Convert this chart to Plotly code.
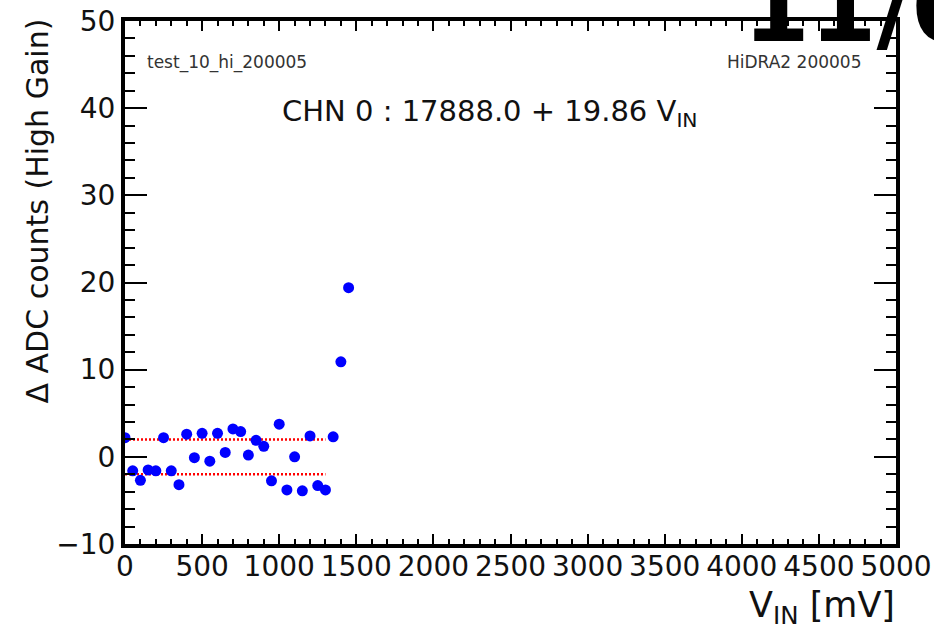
import plotly.graph_objects as go

# Input voltage scan (mV) and deviation from the linear fit (ADC counts)
v_in = [0, 50, 100, 150, 200, 250, 300, 350, 400, 450,
        500, 550, 600, 650, 700, 750, 800, 850, 900, 950,
        1000, 1050, 1100, 1150, 1200, 1250, 1300, 1350, 1400, 1450]
delta_adc = [2.2, -1.6, -2.7, -1.5, -1.6, 2.2, -1.6, -3.2, 2.6, -0.1,
             2.7, -0.5, 2.7, 0.5, 3.2, 2.9, 0.2, 1.9, 1.2, -2.75,
             3.75, -3.8, 0.0, -3.9, 2.4, -3.3, -3.8, 2.3, 10.9, 19.4]

# +/- 2 count tolerance band over the linear range
band_x = [0, 1300]
band_hi = [2, 2]
band_lo = [-2, -2]

x_ticks = [0, 500, 1000, 1500, 2000, 2500, 3000, 3500, 4000, 4500, 5000]
y_ticks = [-10, 0, 10, 20, 30, 40, 50]

W, H = 934, 637
ML, MR, MT, MB = 125, 38, 21, 93
PW, PH = W - ML - MR, H - MT - MB
FONT = "DejaVu Sans"
INK = "#111"


def px_x(px):
    return (px - ML) / PW


def px_y(py):
    return (H - MB - py) / PH


fig = go.Figure()

for yb in (band_hi, band_lo):
    fig.add_trace(go.Scatter(
        x=band_x, y=yb, mode="lines",
        line=dict(color="#ff0000", width=2.5, dash="2px,2px"),
        hoverinfo="skip", showlegend=False,
    ))

fig.add_trace(go.Scatter(
    x=v_in, y=delta_adc, mode="markers",
    marker=dict(color="#0000ff", size=11, line=dict(width=0)),
    showlegend=False,
))

axis_common = dict(
    showgrid=False, zeroline=False, automargin=False,
    showline=True, linewidth=4, linecolor="black",
    mirror="allticks", ticks="inside", tickcolor="black", tickwidth=2,
    tickfont=dict(family=FONT, size=28, color=INK),
)

fig.update_xaxes(
    range=[0, 5000], tickmode="array", tickvals=x_ticks,
    ticktext=[str(t) for t in x_ticks], ticklen=10,
    ticklabelstandoff=-6,
    minor=dict(dtick=100, tick0=0, ticks="inside", ticklen=5,
               tickwidth=2, tickcolor="black", showgrid=False),
    **axis_common,
)
fig.update_yaxes(
    range=[-10, 50], tickmode="array", tickvals=y_ticks,
    ticktext=["\u221210" if t < 0 else str(t) for t in y_ticks], ticklen=22,
    minor=dict(dtick=2, tick0=0, ticks="inside", ticklen=10,
               tickwidth=2, tickcolor="black", showgrid=False),
    **axis_common,
)

annotations = [
    dict(text="test_10_hi_200005", x=px_x(145), y=px_y(62.5),
         xanchor="left", yanchor="middle",
         font=dict(family=FONT, size=17, color="#333")),
    dict(text="HiDRA2 200005", x=px_x(863), y=px_y(62.5),
         xanchor="right", yanchor="middle",
         font=dict(family=FONT, size=17, color="#333")),
    dict(text="CHN 0 : 17888.0 + 19.86 V<sub>IN</sub>",
         x=px_x(280), y=px_y(113), xanchor="left", yanchor="middle",
         font=dict(family=FONT, size=29, color=INK)),
    dict(text="\u0394 ADC counts (High Gain)", textangle=-90,
         x=px_x(37), y=px_y(17), xanchor="center", yanchor="top",
         font=dict(family=FONT, size=30, color=INK)),
    dict(text="V<sub>IN</sub> [mV]", x=px_x(897), y=px_y(607),
         xanchor="right", yanchor="middle",
         font=dict(family=FONT, size=35, color=INK)),
    dict(text="<b>11/0</b>", x=px_x(741), y=px_y(8),
         xanchor="left", yanchor="middle",
         font=dict(family=FONT, size=96, color="black")),
]
for a in annotations:
    a.update(xref="paper", yref="paper", showarrow=False)

fig.update_layout(
    width=W, height=H,
    margin=dict(l=ML, r=MR, t=MT, b=MB, autoexpand=False),
    paper_bgcolor="white", plot_bgcolor="white",
    annotations=annotations,
    showlegend=False,
)

fig.write_html("out.html")
